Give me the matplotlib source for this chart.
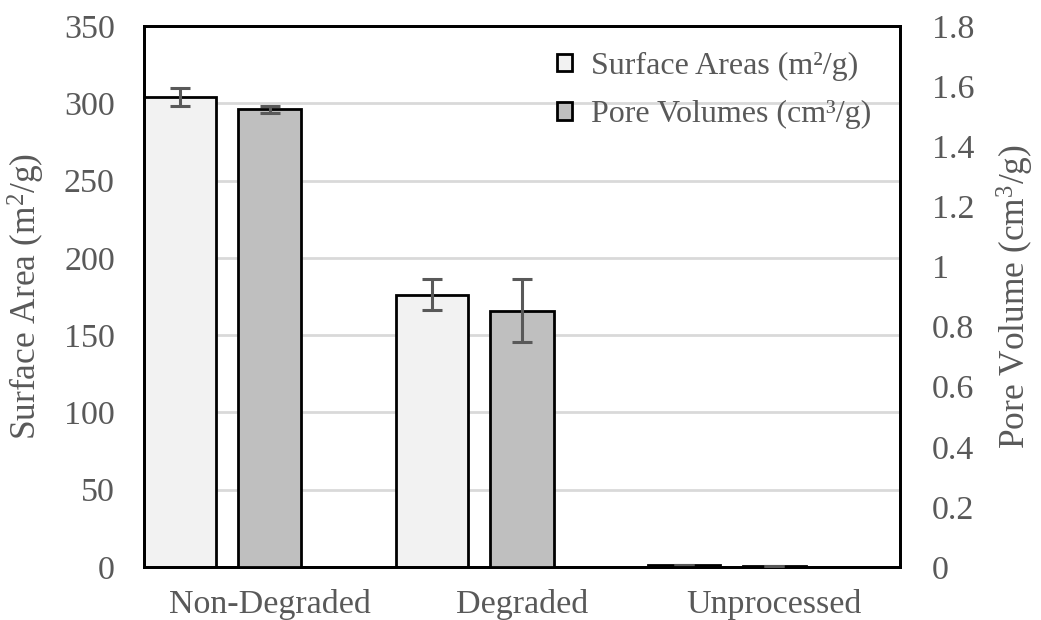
import matplotlib.pyplot as plt
import numpy as np

# данные
categories = ['Non-Degraded', 'Degraded', 'Unprocessed']
surface_area = [304, 176, 1.0]
surface_err = [6, 10, 0]
pore_volume = [1.523, 0.853, 0.004]
pore_err = [0.012, 0.106, 0]

plt.rcParams['font.family'] = ['Liberation Serif', 'DejaVu Serif']
plt.rcParams['mathtext.fontset'] = 'custom'
plt.rcParams['mathtext.rm'] = 'Liberation Serif'
plt.rcParams['mathtext.it'] = 'Liberation Serif:italic'
text_color = '#595959'
fs = 24.5

fig = plt.figure(figsize=(10.41, 6.2), dpi=100)
ax = fig.add_axes([144 / 1041, 53 / 620, 756 / 1041, 541 / 620])
ax2 = ax.twinx()

x = np.arange(len(categories))
err_kw = dict(ecolor='#595959', elinewidth=2.2, capsize=7, capthick=2.2)
b1 = ax.bar(x - 0.357, surface_area, width=0.286, yerr=surface_err,
            color='#f2f2f2', edgecolor='black', linewidth=2, error_kw=err_kw,
            label='Surface Areas (m²/g)', zorder=3)
b2 = ax2.bar(x, pore_volume, width=0.25, yerr=pore_err,
             color='#bfbfbf', edgecolor='black', linewidth=2, error_kw=err_kw,
             label='Pore Volumes (cm³/g)', zorder=3)

ax.set_xlim(-0.5, 2.5)
ax.set_ylim(0, 350)
ax.set_yticks(np.arange(0, 351, 50))
ax2.set_ylim(0, 1.8)
ax2.set_yticks(np.arange(0, 1.81, 0.2))
ax2.set_yticklabels(['0', '0.2', '0.4', '0.6', '0.8', '1', '1.2', '1.4', '1.6', '1.8'])
ax.yaxis.grid(True, color='#d9d9d9', linewidth=2)
ax.set_axisbelow(True)

ax.set_xticks(x)
ax.set_xticklabels(categories)
for a in (ax, ax2):
    a.tick_params(length=0, labelsize=fs, labelcolor=text_color)
    for s in a.spines.values():
        s.set_color('black')
        s.set_linewidth(2)
ax.tick_params(axis='x', pad=16)
ax.tick_params(axis='y', pad=21)
ax2.tick_params(axis='y', pad=23)

ax.set_ylabel('Surface Area (m$^2$/g)', fontsize=25.5, color=text_color, labelpad=12)
ax2.set_ylabel('Pore Volume (cm$^3$/g)', fontsize=25.5, color=text_color, labelpad=15)

leg = ax2.legend(handles=[b1, b2], loc='upper right', frameon=False,
                 fontsize=23, labelcolor=text_color, handlelength=0.46,
                 handleheight=0.46, handletextpad=0.6, labelspacing=0.62,
                 bbox_to_anchor=(1.0, 1.006))

fig.savefig('out.png', dpi=100)
